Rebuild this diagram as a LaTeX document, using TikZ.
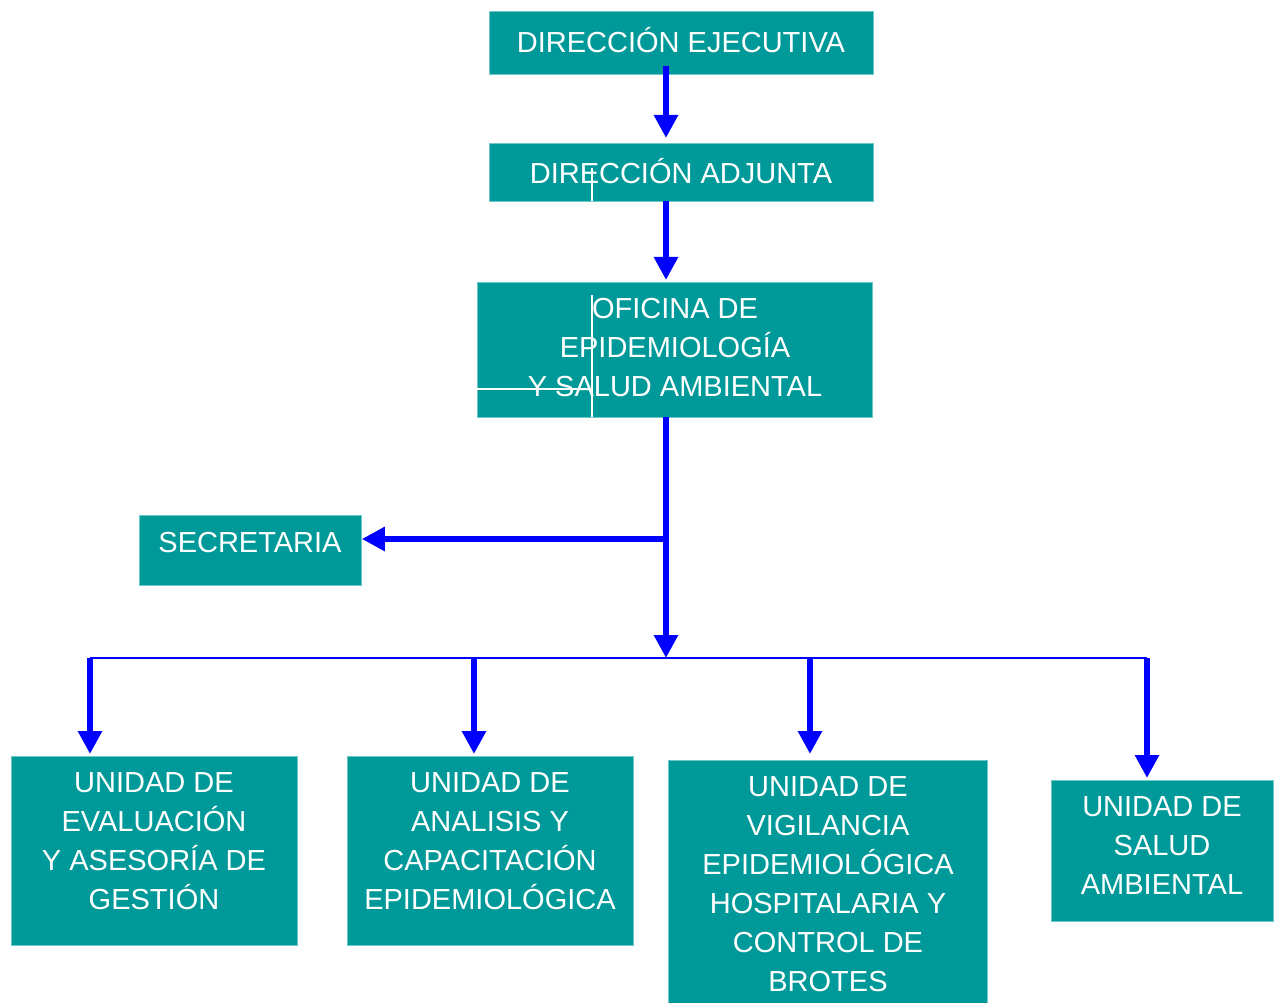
\documentclass[tikz,border=0pt]{standalone}
\usepackage{fontspec}
\setmainfont{Liberation Sans}
\usetikzlibrary{arrows.meta}
\definecolor{teal1}{RGB}{0,153,153}
\definecolor{tealedge}{RGB}{110,200,200}
\definecolor{blue1}{RGB}{0,0,255}
\begin{document}
\begin{tikzpicture}[x=1pt,y=-1pt,
  box/.style={fill=teal1,draw=tealedge,line width=0.8pt,inner sep=0pt,anchor=north west},
  txt/.style={text=white,align=center,font=\fontsize{29}{39}\selectfont,inner sep=0pt},
  arr/.style={draw=blue1,line width=6pt,-{Triangle[width=23pt,length=23pt]}},
  bus/.style={draw=blue1,line width=2.5pt},
  artifact/.style={draw=white,line width=1.3pt}]
\useasboundingbox (0,0) rectangle (1278,1003);
% boxes
\node[box,minimum width=384,minimum height=63] (de) at (489,11) {};
\node[box,minimum width=384,minimum height=58] (da) at (489,143) {};
\node[box,minimum width=395,minimum height=135] (of) at (477,282) {};
\node[box,minimum width=222,minimum height=70] (sec) at (139,515) {};
\node[box,minimum width=286,minimum height=189] (u1) at (11,756) {};
\node[box,minimum width=286,minimum height=189] (u2) at (347,756) {};
\node[box,minimum width=319,minimum height=245] (u3) at (668,760) {};
\node[box,minimum width=222,minimum height=141] (u4) at (1051,780) {};
% texts
\node[txt] (det) at (681,40) {DIRECCIÓN EJECUTIVA};
\node[txt] (dat) at (681,171) {DIRECCIÓN ADJUNTA};
\node[txt] (oft) at (675,348) {OFICINA DE\\EPIDEMIOLOGÍA\\Y SALUD AMBIENTAL};
\node[txt] (sect) at (250,543) {SECRETARIA};
\node[txt] (u1t) at (154,841) {UNIDAD DE\\EVALUACIÓN\\Y ASESORÍA DE\\GESTIÓN};
\node[txt] (u2t) at (490,841) {UNIDAD DE\\ANALISIS Y\\CAPACITACIÓN\\EPIDEMIOLÓGICA};
\node[txt] (u3t) at (828,884) {UNIDAD DE\\VIGILANCIA\\EPIDEMIOLÓGICA\\HOSPITALARIA Y\\CONTROL DE\\BROTES};
\node[txt] (u4t) at (1162,846) {UNIDAD DE\\SALUD\\AMBIENTAL};
% white artifact lines
\draw[artifact] (592,168) -- (592,201);
\draw[artifact] (592,295) -- (592,417);
\draw[artifact] (477,389) -- (592,389);
% coordinates
\coordinate (c1) at (666,66);
\coordinate (c2) at (666,201);
\coordinate (c3) at (666,417);
\coordinate (br) at (666,539);
\coordinate (hub) at (666,658);
\coordinate (b1) at (90,658);
\coordinate (b2) at (474,658);
\coordinate (b3) at (810,658);
\coordinate (b4) at (1147,658);
% connectors
\draw[arr,shorten >=5pt] (c1) -- (c1 |- da.north);
\draw[arr,shorten >=2pt] (c2) -- (c2 |- of.north);
\draw[arr] (c3) -- (hub);
\draw[draw=blue1,line width=6pt] (br) -- (br -| 640,0);
\draw[arr] (br) -- (br -| sec.east);
\draw[bus] (b1) -- (b4);
\draw[arr,shorten >=2pt] (b1) -- (b1 |- u1.north);
\draw[arr,shorten >=2pt] (b2) -- (b2 |- u2.north);
\draw[arr,shorten >=6pt] (b3) -- (b3 |- u3.north);
\draw[arr,shorten >=2pt] (b4) -- (b4 |- u4.north);
\end{tikzpicture}
\end{document}
